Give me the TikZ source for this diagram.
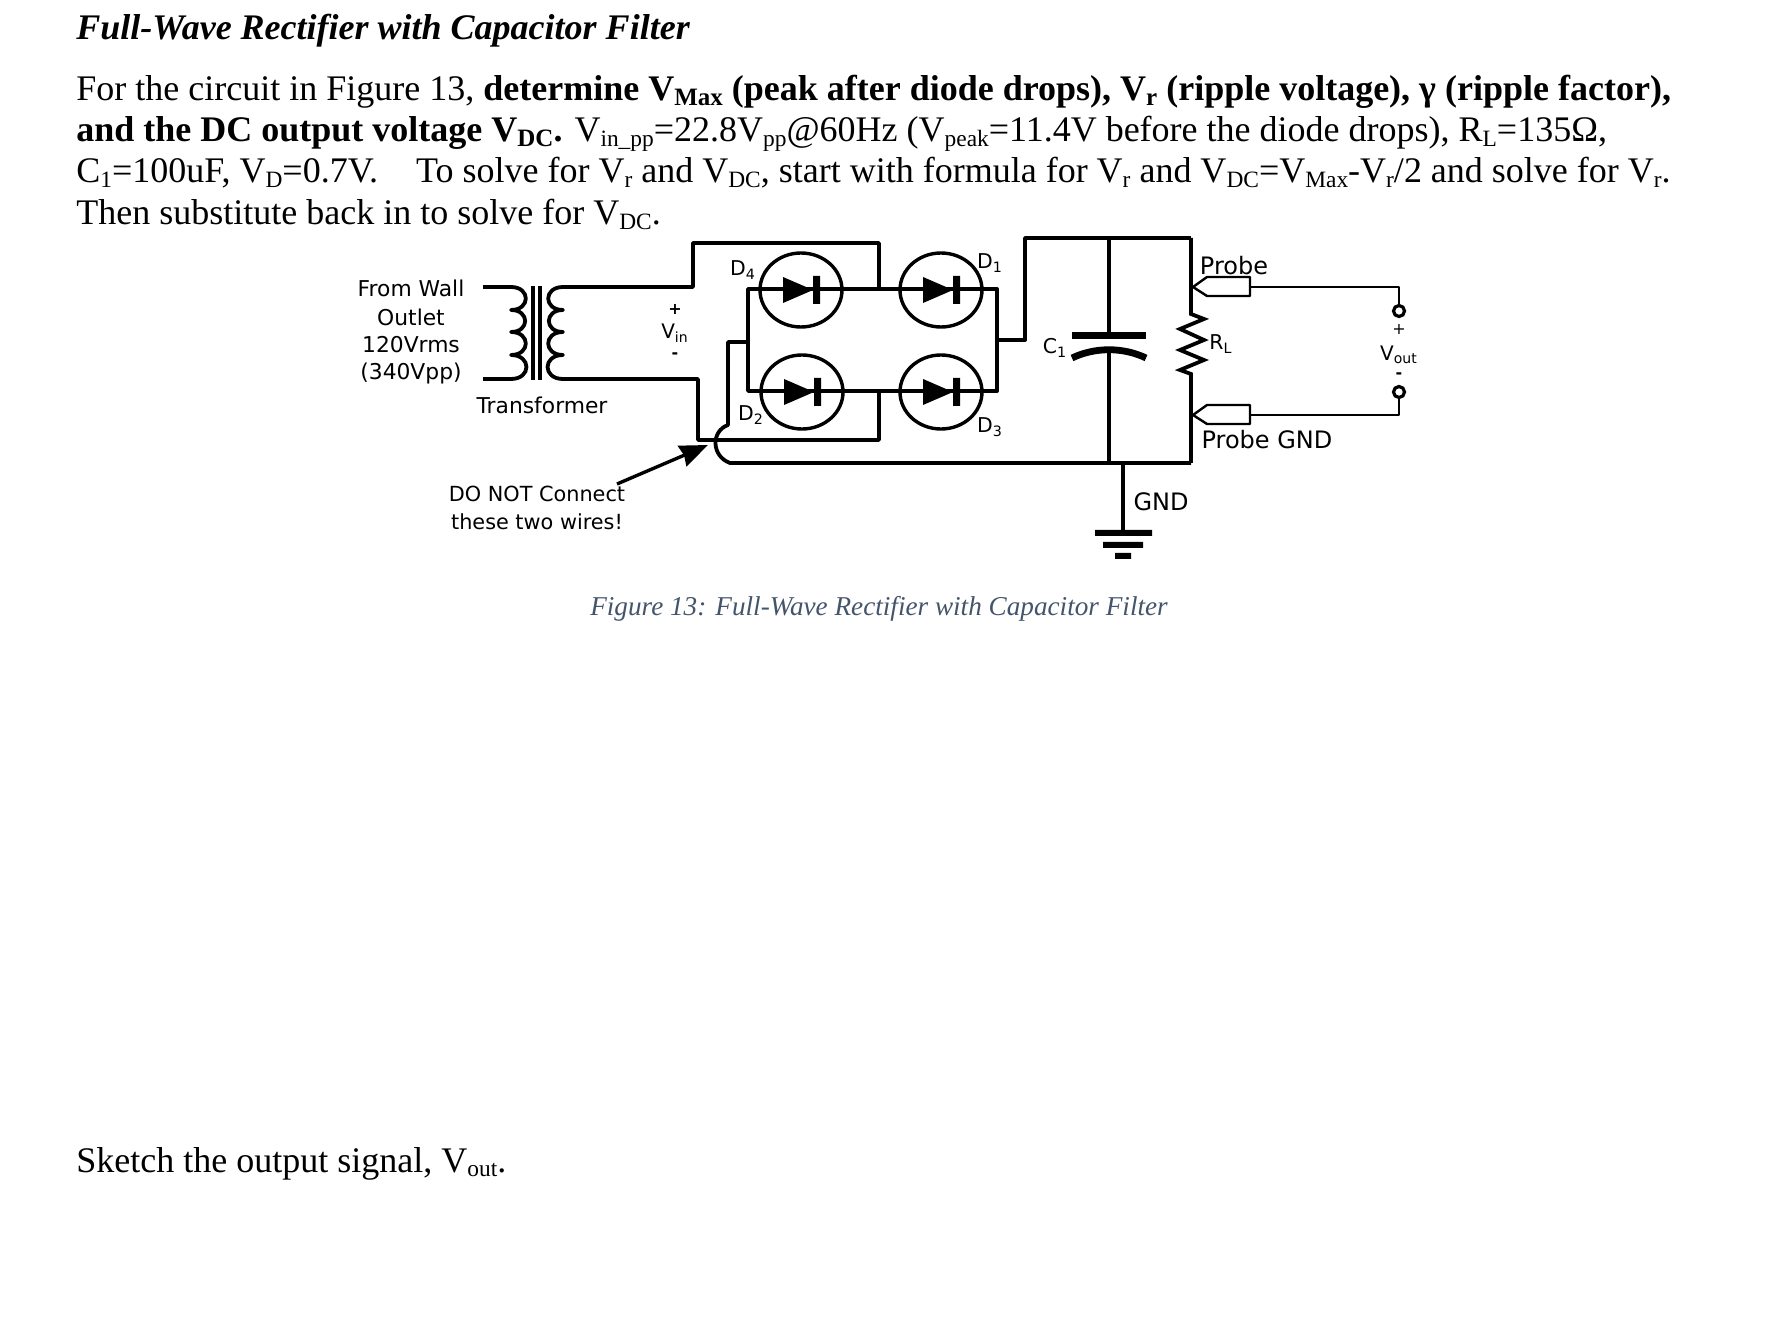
\documentclass[tikz,border=0pt]{standalone}
\usepackage{fontspec}
\setmainfont{Liberation Serif}
\newfontfamily\lblfont{DejaVu Sans}
\usetikzlibrary{arrows.meta, shapes.geometric}
\definecolor{capblue}{HTML}{44546A}
\def\dtri{+(-18,-13) -- +(-18,13) -- +(12,0) -- cycle}
\def\dbar{+(12,-14) rectangle +(19,14)}
\def\sbs#1{\raisebox{-.25ex}{\fontsize{11.7}{11.7}\selectfont #1}}
\def\sbb#1{\raisebox{-.25ex}{\fontsize{12.5}{12.5}\selectfont\bfseries #1}}
\tikzset{
  wire/.style={line width=1.9pt, line join=round},
  thinwire/.style={line width=1.2pt, line join=round},
  ring/.style={ellipse, draw, line width=1.7pt, minimum width=41pt, minimum height=37pt, inner sep=0pt},
  term/.style={circle, draw, line width=1.6pt, minimum size=5.5pt, inner sep=0pt},
  body/.style={anchor=base west, inner sep=0pt, font=\fontsize{18}{18}\selectfont},
  lbl/.style={inner sep=0pt, font=\lblfont\fontsize{10.9}{12}\selectfont},
  big/.style={inner sep=0pt, font=\lblfont\fontsize{12}{14}\selectfont},
  small/.style={inner sep=0pt, font=\lblfont\fontsize{8}{10}\selectfont},
  part/.style={inner sep=0pt, font=\lblfont\fontsize{10.2}{12}\selectfont},
  pcoil/.style={out=0, in=0, looseness=2.2},
  scoil/.style={out=180, in=180, looseness=2.2}
}
\begin{document}
\begin{tikzpicture}[x=.5pt, y=-.5pt]
    \useasboundingbox (0,0) rectangle (1782,1336);
    % question text
    \node[body, font=\fontsize{18}{18}\selectfont\bfseries\itshape] (title) at (76,40) {Full-Wave Rectifier with Capacitor Filter};
    \node[body] (lineA) at (76,101) {For the circuit in Figure 13, \textbf{determine V\sbb{Max} (peak after diode drops), V\sbb{r} (ripple voltage), γ (ripple factor),}};
    \node[body] (lineB) at (76,142) {\textbf{and the DC output voltage V\sbb{DC}.} V\sbs{in\_pp}=22.8V\sbs{pp}@60Hz (V\sbs{peak}=11.4V before the diode drops), R\sbs{L}=135Ω,};
    \node[body] (lineC) at (76,183) {C\sbs{1}=100uF, V\sbs{D}=0.7V.\hspace{19pt}To solve for V\sbs{r} and V\sbs{DC}, start with formula for V\sbs{r} and V\sbs{DC}=V\sbs{Max}-V\sbs{r}/2 and solve for V\sbs{r}.};
    \node[body] (lineD) at (76,225) {Then substitute back in to solve for V\sbs{DC}.};
    \node[body] (sketch) at (76,1172) {Sketch the output signal, V\sbs{out}.};
    \node[inner sep=0pt, text=capblue, font=\fontsize{13.6}{14}\selectfont\itshape] (caption) at (879,609) {Figure 13: Full-Wave Rectifier with Capacitor Filter};

    % junctions
    \coordinate (priT) at (511,287);
    \coordinate (priB) at (511,379);
    \coordinate (secT) at (563,287);
    \coordinate (secB) at (563,379);
    \coordinate (acT) at (879,289);
    \coordinate (acB) at (879,391);
    \coordinate (lt) at (748,289);
    \coordinate (lb) at (748,391);
    \coordinate (rt) at (997,289);
    \coordinate (rb) at (997,391);
    \coordinate (neg) at (748,342);
    \coordinate (hopA) at (728,425);
    \coordinate (hopB) at (730,463);
    \coordinate (pos) at (997,340);
    \coordinate (railT) at (1191,238);
    \coordinate (railB) at (1191,463);
    \coordinate (capT) at (1109,238);
    \coordinate (capB) at (1109,463);
    \coordinate (gnd) at (1123,463);
    \coordinate (gndA) at (1123,533);
    \coordinate (probeA) at (1193,287);
    \coordinate (probeB) at (1193,415);
    \coordinate (stubA) at (483,287);
    \coordinate (stubB) at (483,379);
    \coordinate (arrA) at (617,484);
    \coordinate (arrB) at (708,445);

    % transformer
    \draw[wire] (stubA) -- (priT) to[pcoil] (511,310) to[pcoil] (511,332) to[pcoil] (511,355) to[pcoil] (priB) -- (stubB);
    \draw[wire] (533,286) -- (533,380) (540,286) -- (540,380);
    \draw[wire] (secT) to[scoil] (563,310) to[scoil] (563,332) to[scoil] (563,355) to[scoil] (secB);

    % bridge
    \node[ring] (D4) at (801,290) {};
    \node[ring] (D1) at (941,290) {};
    \node[ring] (D2) at (802,392) {};
    \node[ring] (D3) at (941,392) {};
    \draw[wire] (lt) -- (rt) -- (rb) -- (lb) -- cycle;
    \fill (D4) \dtri (D1) \dtri (D2) \dtri (D3) \dtri;
    \fill (D4) \dbar (D1) \dbar (D2) \dbar (D3) \dbar;
    \draw[wire] (secT) -- (693,287) -- (693,243) -- (879,243) -- (acT);
    \draw[wire] (secB) -- (698,379) -- (698,440) -- (879,440) -- (acB);
    \draw[wire] (neg) -- (728,342) -- (hopA) .. controls (711,431) and (711,456) .. (hopB) -- (railB);
    \draw[wire] (pos) -- (1025,340) -- (1025,238) -- (railT);

    % filter and load
    \draw[wire] (capT) -- (1109,336) (1109,349) -- (capB);
    \fill (1072,332.5) rectangle (1146,339.5);
    \draw[line width=3.4pt] (1072,358) .. controls (1095,347) and (1123,347) .. (1146,358);
    \draw[wire, line join=miter] (railT) -- (1191,314) -- (1204,319) -- (1180,329) -- (1204,340) -- (1180,350) -- (1204,360) -- (1180,370) -- (1191,374) -- (railB);
    \draw[wire] (gnd) -- (gndA);
    \fill (1095,530) rectangle (1152,536) (1103,542) rectangle (1143,548) (1115,553) rectangle (1131,559);

    % probes
    \node[term] (VP) at (1399,311) {};
    \node[term] (VN) at (1399,392) {};
    \draw[thinwire] (probeA) -- +(14,-10) -- +(57,-10) -- +(57,9) -- +(14,9) -- cycle;
    \draw[thinwire] (probeB) -- +(14,-10) -- +(57,-10) -- +(57,9) -- +(14,9) -- cycle;
    \draw[thinwire] (1250,287) -| (VP);
    \draw[thinwire] (1250,415) -| (VN);

    \draw[line width=1.7pt, -{Stealth[length=14pt, width=11pt, inset=1pt]}] (arrA) -- (arrB);

    % labels
    \node[lbl] (wallA) at (411,288) {From Wall};
    \node[lbl] (wallB) at (411,317) {Outlet};
    \node[lbl] (wallC) at (411,345) {120Vrms};
    \node[lbl] (wallD) at (411,373) {(340Vpp)};
    \node[lbl] (xfmr) at (542,405) {Transformer};
    \node[lbl, font=\lblfont\fontsize{10.4}{12}\selectfont] (warnA) at (537,494) {DO NOT Connect};
    \node[lbl, font=\lblfont\fontsize{10.4}{12}\selectfont] (warnB) at (537,522) {these two wires!};
    \node[small] (vinP) at (675,309) {\textbf{+}};
    \node[part, font=\lblfont\fontsize{10}{12}\selectfont] (vin) at (675,333) {V\textsubscript{in}};
    \node[small] (vinN) at (675,356) {\textbf{-}};
    \node[part] (d4) at (743,270) {D\textsubscript{4}};
    \node[part] (d1) at (990,263) {D\textsubscript{1}};
    \node[part] (d2) at (751,415) {D\textsubscript{2}};
    \node[part] (d3) at (990,427) {D\textsubscript{3}};
    \node[part] (c1) at (1055,348) {C\textsubscript{1}};
    \node[part] (rl) at (1221,344) {R\textsubscript{L}};
    \node[big] (probe) at (1234,266) {Probe};
    \node[big] (probeGnd) at (1267,440) {Probe GND};
    \node[big] (gndTxt) at (1161,502) {GND};
    \node[small] (voP) at (1399,329) {+};
    \node[part, font=\lblfont\fontsize{10}{12}\selectfont] (vout) at (1399,355) {V\textsubscript{out}};
    \node[small] (voN) at (1399,376) {\textbf{-}};
\end{tikzpicture}
\end{document}
